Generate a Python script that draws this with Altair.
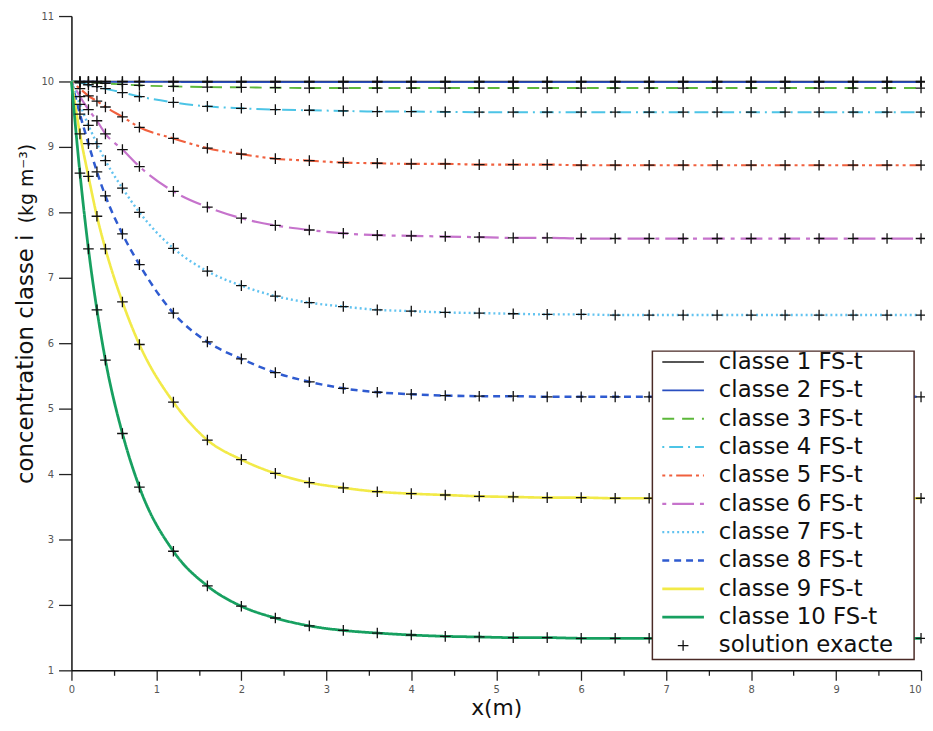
import altair as alt
import pandas as pd

# ---- data ----
x_pts = [0.1, 0.2, 0.3, 0.4, 0.6, 0.8, 1.2, 1.6, 2.0, 2.4, 2.8, 3.2, 3.6, 4.0, 4.4,
         4.8, 5.2, 5.6, 6.0, 6.4, 6.8, 7.2, 7.6, 8.0, 8.4, 8.8, 9.2, 9.6, 10.0]
x_start = 0.0
c_start = 10.0

classes = ["classe 1 FS-t", "classe 2 FS-t", "classe 3 FS-t", "classe 4 FS-t",
           "classe 5 FS-t", "classe 6 FS-t", "classe 7 FS-t", "classe 8 FS-t",
           "classe 9 FS-t", "classe 10 FS-t"]
exact_label = "solution exacte"

c1 = [10.0, 10.0, 10.0, 10.0, 10.0, 10.0, 10.0, 10.0, 10.0, 10.0, 10.0, 10.0, 10.0, 10.0, 10.0,
      10.0, 10.0, 10.0, 10.0, 10.0, 10.0, 10.0, 10.0, 10.0, 10.0, 10.0, 10.0, 10.0, 10.0]
c2 = [9.998, 9.997, 9.996, 9.995, 9.994, 9.993, 9.992, 9.991, 9.99, 9.99, 9.99, 9.99, 9.99, 9.99, 9.99,
      9.99, 9.99, 9.99, 9.99, 9.99, 9.99, 9.99, 9.99, 9.99, 9.99, 9.99, 9.99, 9.99, 9.99]
c3 = [9.995, 9.99, 9.98, 9.97, 9.955, 9.94, 9.925, 9.915, 9.91, 9.905, 9.90, 9.90, 9.90, 9.90, 9.90,
      9.90, 9.90, 9.90, 9.90, 9.90, 9.90, 9.90, 9.90, 9.90, 9.90, 9.90, 9.90, 9.90, 9.90]
c4 = [9.98, 9.95, 9.92, 9.89, 9.83, 9.77, 9.68, 9.62, 9.59, 9.57, 9.56, 9.55, 9.54, 9.54, 9.535,
      9.53, 9.53, 9.53, 9.53, 9.53, 9.53, 9.53, 9.53, 9.53, 9.53, 9.53, 9.53, 9.53, 9.53]
c5 = [9.89, 9.78, 9.70, 9.61, 9.46, 9.30, 9.13, 8.98, 8.89, 8.82, 8.79, 8.76, 8.75, 8.74, 8.74,
      8.73, 8.73, 8.73, 8.72, 8.72, 8.72, 8.72, 8.72, 8.72, 8.72, 8.72, 8.72, 8.72, 8.72]
c6 = [9.77, 9.57, 9.40, 9.20, 8.96, 8.70, 8.32, 8.08, 7.91, 7.80, 7.73, 7.68, 7.65, 7.64, 7.63,
      7.62, 7.61, 7.61, 7.60, 7.60, 7.60, 7.60, 7.60, 7.60, 7.60, 7.60, 7.60, 7.60, 7.60]
c7 = [9.65, 9.33, 9.05, 8.79, 8.37, 8.00, 7.45, 7.10, 6.88, 6.72, 6.62, 6.56, 6.51, 6.49, 6.47,
      6.46, 6.45, 6.44, 6.44, 6.43, 6.43, 6.43, 6.43, 6.43, 6.43, 6.43, 6.43, 6.43, 6.43]
c8 = [9.50, 9.05, 8.62, 8.25, 7.67, 7.20, 6.46, 6.02, 5.76, 5.55, 5.41, 5.31, 5.25, 5.22, 5.20,
      5.19, 5.19, 5.18, 5.18, 5.18, 5.18, 5.18, 5.18, 5.18, 5.18, 5.18, 5.18, 5.18, 5.18]
c9 = [9.20, 8.55, 7.94, 7.44, 6.63, 5.98, 5.10, 4.52, 4.22, 4.01, 3.87, 3.79, 3.73, 3.70, 3.68,
      3.66, 3.65, 3.64, 3.64, 3.63, 3.63, 3.63, 3.63, 3.63, 3.63, 3.63, 3.63, 3.63, 3.63]
c10 = [8.60, 7.44, 6.51, 5.74, 4.62, 3.80, 2.82, 2.29, 1.98, 1.80, 1.68, 1.61, 1.57, 1.54, 1.52,
       1.51, 1.50, 1.50, 1.49, 1.49, 1.49, 1.49, 1.49, 1.49, 1.49, 1.49, 1.49, 1.49, 1.49]
series = [c1, c2, c3, c4, c5, c6, c7, c8, c9, c10]

x_ticks = [0, 0.5, 1, 1.5, 2, 2.5, 3, 3.5, 4, 4.5, 5, 5.5, 6, 6.5, 7, 7.5, 8, 8.5, 9, 9.5, 10]
y_ticks = [1, 1.5, 2, 2.5, 3, 3.5, 4, 4.5, 5, 5.5, 6, 6.5, 7, 7.5, 8, 8.5, 9, 9.5, 10, 10.5, 11]

# ---- styles ----
colors = ["#1e1e1e", "#2a4fc0", "#5cb83a", "#4cc4e6", "#f0603e",
          "#c673cc", "#62c3f0", "#2f5bd0", "#f2ea48", "#17a060"]
dashes = [[1, 0], [1, 0], [12, 8], [2, 5, 14, 5], [3, 4, 3, 4, 16, 4],
          [4, 6, 22, 6], [2, 3], [7, 5], [1, 0], [1, 0]]
widths = [1.6, 2.8, 2.0, 1.8, 3.2, 3.6, 1.8, 2.4, 2.2, 1.6]

rows = []
for name, vals in zip(classes, series):
    assert len(vals) == len(x_pts)
    rows.append({"classe": name, "x": x_start, "c": c_start})
    for xv, v in zip(x_pts, vals):
        rows.append({"classe": name, "x": xv, "c": v})
lines_df = pd.DataFrame(rows)
marks_df = lines_df[lines_df["x"] > 0].reset_index(drop=True)

W, H = 857, 660
FONT = "DejaVu Sans"

color_scale = alt.Scale(domain=classes, range=colors)
dash_scale = alt.Scale(domain=classes, range=dashes)
width_scale = alt.Scale(domain=classes, range=widths)
xs = alt.Scale(domain=[0, 10], nice=False, zero=False)
ys = alt.Scale(domain=[1, 11], nice=False, zero=False)

half_test = "datum.value % 1 != 0"
int_label = "datum.value % 1 == 0 ? format(datum.value, 'd') : ''"
x_axis = alt.Axis(values=x_ticks, grid=False, title="x(m)",
                  labelExpr=int_label,
                  tickSize={"condition": {"test": half_test, "value": 5}, "value": 10},
                  labelAlign={"condition": {"test": "datum.value >= 10", "value": "right"},
                              "value": "center"},
                  tickColor="#222", domainColor="#111", domainWidth=1.5, tickWidth=1.3,
                  labelFont=FONT, labelFontSize=10, labelColor="#555", labelPadding=4,
                  labelFlush=False, labelOverlap=False, labelBound=False,
                  titleFont=FONT, titleFontSize=22, titleFontWeight="normal",
                  titleColor="#111", titlePadding=4)
y_axis = alt.Axis(values=y_ticks, grid=False, title=None,
                  labelExpr=int_label,
                  tickSize={"condition": {"test": half_test, "value": 7}, "value": 13},
                  tickColor="#222", domainColor="#111", domainWidth=1.5, tickWidth=1.3,
                  labelFont=FONT, labelFontSize=10, labelColor="#555", labelPadding=5,
                  labelOverlap=False, labelBound=False)

base_x = alt.X("x:Q", scale=xs, axis=x_axis)
base_y = alt.Y("c:Q", scale=ys, axis=y_axis)

lines = alt.Chart(lines_df).mark_line(interpolate="monotone").encode(
    x=base_x, y=base_y,
    color=alt.Color("classe:N", scale=color_scale, legend=None),
    strokeDash=alt.StrokeDash("classe:N", scale=dash_scale, legend=None),
    strokeWidth=alt.StrokeWidth("classe:N", scale=width_scale, legend=None),
    detail="classe:N",
    order=alt.Order("x:Q"),
)

plus_path = "M-1,0L1,0M0,-1L0,1"
markers = alt.Chart(marks_df).mark_point(shape=plus_path, size=115, filled=False,
                                         color="#111", strokeWidth=1.3, opacity=1).encode(
    x=alt.X("x:Q", scale=xs), y=alt.Y("c:Q", scale=ys)
)

# ---- y title (two sizes) ----
ytitle_main = alt.Chart(pd.DataFrame({"t": ["concentration classe i"]})).mark_text(
    angle=270, align="left", baseline="alphabetic", font=FONT, fontSize=23, color="#111"
).encode(x=alt.value(-39), y=alt.value(472), text="t:N")
ytitle_unit = alt.Chart(pd.DataFrame({"t": ["(kg m\u207b\u00b3)"]})).mark_text(
    angle=270, align="left", baseline="alphabetic", font=FONT, fontSize=19, color="#111"
).encode(x=alt.value(-39), y=alt.value(209), text="t:N")

# ---- manual legend ----
leg_left, leg_right, leg_top, leg_bottom = 586, 850, 338, 649
row0, row_step = 349, 28.6
leg_df = pd.DataFrame({"classe": classes})
leg_df["ly"] = [row0 + i * row_step for i in range(len(classes))]
leg_df["lx1"] = 596
leg_df["lx2"] = 638
leg_df["tx"] = 653

legend_box = alt.Chart(pd.DataFrame({"a": [0]})).mark_rect(
    fill="white", stroke="#4a2a26", strokeWidth=1.5
).encode(x=alt.value(leg_left), x2=alt.value(leg_right),
         y=alt.value(leg_top), y2=alt.value(leg_bottom))

legend_lines = alt.Chart(leg_df).mark_rule().encode(
    x=alt.X("lx1:Q", scale=None), x2="lx2:Q", y=alt.Y("ly:Q", scale=None),
    color=alt.Color("classe:N", scale=color_scale, legend=None),
    strokeDash=alt.StrokeDash("classe:N", scale=dash_scale, legend=None),
    strokeWidth=alt.StrokeWidth("classe:N", scale=width_scale, legend=None),
)
legend_text = alt.Chart(leg_df).mark_text(
    align="left", baseline="middle", font=FONT, fontSize=23, color="#111"
).encode(x=alt.X("tx:Q", scale=None), y=alt.Y("ly:Q", scale=None), text="classe:N")

ex_df = pd.DataFrame({"label": [exact_label]})
ex_df["ly"] = row0 + len(classes) * row_step
ex_df["mx"] = 617
ex_df["tx"] = 653
legend_ex_mark = alt.Chart(ex_df).mark_point(shape=plus_path, size=115, filled=False,
                                             color="#111", strokeWidth=1.3, opacity=1).encode(
    x=alt.X("mx:Q", scale=None), y=alt.Y("ly:Q", scale=None))
legend_ex_text = alt.Chart(ex_df).mark_text(
    align="left", baseline="middle", font=FONT, fontSize=23, color="#111"
).encode(x=alt.X("tx:Q", scale=None), y=alt.Y("ly:Q", scale=None), text="label:N")

chart = alt.layer(
    lines, markers, ytitle_main, ytitle_unit,
    legend_box, legend_lines, legend_text, legend_ex_mark, legend_ex_text
).properties(
    width=W, height=H,
    autosize=alt.AutoSizeParams(type="none"),
    padding={"left": 64, "top": 5, "right": 4, "bottom": 50},
    background="white",
).configure_view(stroke=None)

chart.save("out.html", embed_options={"renderer": "svg", "actions": False})
